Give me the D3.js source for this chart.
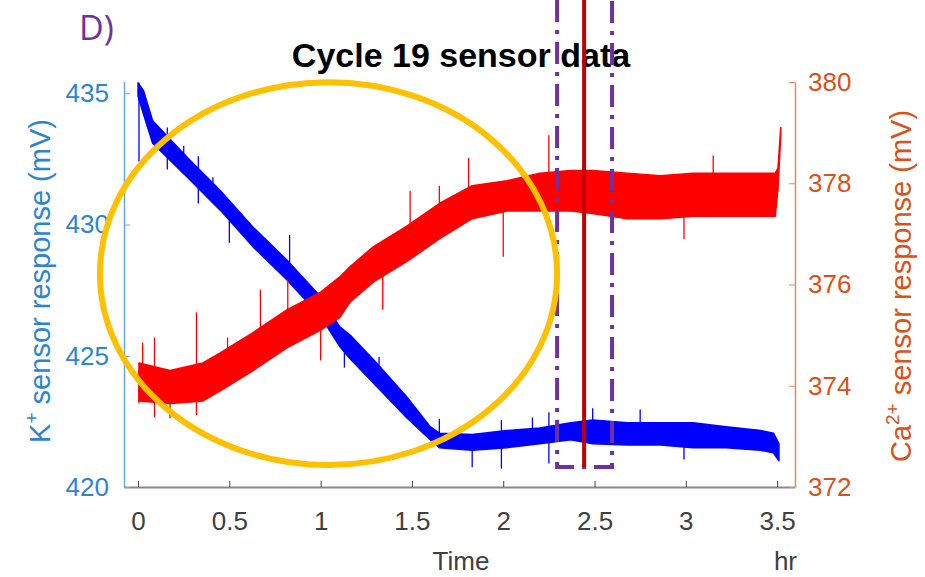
<!DOCTYPE html>
<meta charset="utf-8">
<script src="https://d3js.org/d3.v7.min.js"></script>
<style>
body { margin: 0; background: #fff; }
text { font-family: "Liberation Sans", Arial, sans-serif; }
</style>
<body>
<div id="chart"></div>
<script>

// K+ band (hr, lower mV, upper mV)
const kTime = [0.0, 0.03, 0.08, 0.27, 0.45, 0.63, 0.815, 1.0, 1.105, 1.16, 1.29, 1.47, 1.6, 1.65, 1.83, 2.02, 2.2, 2.37, 2.49, 2.68, 2.86, 3.04, 3.22, 3.41, 3.48, 3.51];
const kLow  = [434.9, 434.2, 433.1, 431.8, 430.55, 429.15, 427.9, 426.5, 425.35, 424.9, 423.95, 422.65, 421.8, 421.5, 421.4, 421.5, 421.65, 421.8, 421.65, 421.6, 421.6, 421.5, 421.5, 421.4, 421.3, 421.0];
const kHigh = [435.4, 435.1, 433.95, 432.55, 431.3, 429.9, 428.65, 427.25, 426.1, 425.8, 424.85, 423.45, 422.3, 422.05, 422.0, 422.15, 422.25, 422.45, 422.55, 422.45, 422.45, 422.45, 422.3, 422.15, 422.05, 421.65];

// Ca2+ band
const caTime = [0.005, 0.175, 0.355, 0.45, 0.63, 0.815, 1.0, 1.105, 1.16, 1.29, 1.47, 1.65, 1.83, 2.02, 2.2, 2.37, 2.49, 2.68, 2.86, 3.04, 3.22, 3.41, 3.49, 3.505, 3.52];
const caLow  = [373.7, 373.65, 373.7, 373.9, 374.3, 374.75, 375.1, 375.35, 375.65, 376.05, 376.45, 376.9, 377.3, 377.45, 377.45, 377.45, 377.4, 377.3, 377.3, 377.35, 377.35, 377.35, 377.35, 377.9, 378.95];
const caHigh = [374.45, 374.3, 374.45, 374.65, 375.05, 375.5, 375.85, 376.15, 376.35, 376.75, 377.15, 377.6, 377.95, 378.05, 378.2, 378.25, 378.25, 378.2, 378.15, 378.2, 378.2, 378.2, 378.2, 378.3, 379.1];

// spikes (hr, from mV, to mV)
const kSpikeT  = [0.005, 0.16, 0.25, 0.33, 0.41, 0.5, 0.83, 1.13, 1.32, 1.65, 1.83, 1.99, 2.16, 2.25, 2.49, 2.75, 2.99];
const kSpikeLo = [432.4, 432.1, 432.3, 430.8, 431.0, 429.3, 427.8, 424.55, 423.8, 421.6, 420.75, 420.7, 421.7, 420.9, 421.8, 421.8, 421.05];
const kSpikeHi = [435.4, 433.7, 433.0, 432.6, 431.8, 430.9, 429.6, 425.6, 424.95, 422.6, 421.9, 422.55, 422.65, 422.85, 423.0, 422.95, 422.2];

const caSpikeT  = [0.005, 0.025, 0.09, 0.175, 0.32, 0.49, 0.67, 0.82, 1.0, 1.34, 1.49, 1.65, 1.81, 2.0, 2.25, 2.99, 3.15];
const caSpikeLo = [373.65, 374.0, 373.38, 373.36, 373.42, 374.0, 374.5, 375.0, 374.5, 375.5, 376.5, 377.0, 377.5, 376.55, 377.8, 376.9, 377.8];
const caSpikeHi = [374.3, 374.85, 374.95, 374.1, 375.45, 374.95, 375.9, 376.1, 375.5, 376.5, 377.85, 377.95, 378.5, 377.8, 378.95, 377.8, 378.55];

const xTicks = [0, 0.5, 1, 1.5, 2, 2.5, 3, 3.5];
const kTicks = [420, 425, 430, 435];
const caTicks = [372, 374, 376, 378, 380];

// window markers (hr) and highlight ellipse (data units)
const windowStart = 2.295, windowEnd = 2.596, windowMid = 2.443, windowBottom = 420.76;
const ell = {t: 1.043, k: 428.13, rt: 1.252, rk: 7.29};

const W = 925, H = 577;
const plotL = 124, plotR = 795, plotT = 81.5, plotB = 487;

const svg = d3.select("#chart").append("svg")
    .attr("width", W).attr("height", H);

const x = d3.scaleLinear().domain([-0.077, 3.598]).range([plotL, plotR]);
const yK = d3.scaleLinear().domain([420, 435.45]).range([plotB, plotT]);
const yCa = d3.scaleLinear().domain([372, 380]).range([plotB, 82]);

const blue = "#0000ff", red = "#ff0000";
const kCol = "#2d86cc", caCol = "#d95319";

// bands
const kArea = d3.area()
    .x((d, i) => x(kTime[i]))
    .y0((d, i) => yK(kLow[i]))
    .y1((d, i) => yK(kHigh[i]));
svg.append("path").datum(kTime)
    .attr("d", kArea)
    .attr("fill", blue).attr("stroke", blue).attr("stroke-width", 1.5)
    .attr("stroke-linejoin", "round");

svg.append("g").selectAll("line")
  .data(kSpikeT)
  .join("line")
    .attr("x1", d => x(d)).attr("x2", d => x(d))
    .attr("y1", (d, i) => yK(kSpikeLo[i]))
    .attr("y2", (d, i) => yK(kSpikeHi[i]))
    .attr("stroke", blue).attr("stroke-width", 1.3);

const caArea = d3.area()
    .x((d, i) => x(caTime[i]))
    .y0((d, i) => yCa(caLow[i]))
    .y1((d, i) => yCa(caHigh[i]));
svg.append("path").datum(caTime)
    .attr("d", caArea)
    .attr("fill", red).attr("stroke", red).attr("stroke-width", 1.5)
    .attr("stroke-linejoin", "round");

svg.append("g").selectAll("line")
  .data(caSpikeT)
  .join("line")
    .attr("x1", d => x(d)).attr("x2", d => x(d))
    .attr("y1", (d, i) => yCa(caSpikeLo[i]))
    .attr("y2", (d, i) => yCa(caSpikeHi[i]))
    .attr("stroke", red).attr("stroke-width", 1.3);

// axes
const xAxis = svg.append("g")
    .attr("transform", `translate(0,${plotB})`)
    .call(d3.axisBottom(x).tickValues(xTicks).tickFormat(d3.format("")).tickSize(-6).tickSizeOuter(0).tickPadding(25));
xAxis.select(".domain").attr("stroke", "#8a8a8a").attr("stroke-width", 2);
xAxis.selectAll(".tick line").attr("stroke", "#444");
xAxis.selectAll("text").attr("fill", "#404040").style("font-size", "26px");

const kAxis = svg.append("g")
    .attr("transform", `translate(${plotL},0)`)
    .call(d3.axisLeft(yK).tickValues(kTicks).tickSize(-6).tickSizeOuter(0).tickPadding(15));
kAxis.select(".domain").attr("stroke", "#6aa8dc").attr("stroke-width", 1.5);
kAxis.selectAll(".tick line").attr("stroke", "#6aa8dc");
kAxis.selectAll("text").attr("fill", kCol).style("font-size", "26px");

const caAxis = svg.append("g")
    .attr("transform", `translate(${plotR},0)`)
    .call(d3.axisRight(yCa).tickValues(caTicks).tickSize(-6).tickSizeOuter(0).tickPadding(13));
caAxis.select(".domain").attr("stroke", "#e38a62").attr("stroke-width", 1.5);
caAxis.selectAll(".tick line").attr("stroke", "#e38a62");
caAxis.selectAll("text").attr("fill", caCol).style("font-size", "26px");

// axis labels
const kLabel = svg.append("text")
    .attr("transform", "translate(50,281) rotate(-90)")
    .attr("text-anchor", "middle")
    .attr("fill", kCol).style("font-size", "29px");
kLabel.append("tspan").text("K");
kLabel.append("tspan").attr("dy", -12).style("font-size", "19px").text("+");
kLabel.append("tspan").attr("dy", 12).text(" sensor response (mV)");

const caLabel = svg.append("text")
    .attr("transform", "translate(911,286) rotate(-90)")
    .attr("text-anchor", "middle")
    .attr("fill", caCol).style("font-size", "29px");
caLabel.append("tspan").text("Ca");
caLabel.append("tspan").attr("dy", -12).style("font-size", "19px").text("2+");
caLabel.append("tspan").attr("dy", 12).text(" sensor response (mV)");

svg.append("text")
    .attr("x", 461).attr("y", 570)
    .attr("text-anchor", "middle")
    .attr("fill", "#404040").style("font-size", "26px")
    .text("Time");
svg.append("text")
    .attr("x", 797).attr("y", 570)
    .attr("text-anchor", "end")
    .attr("fill", "#404040").style("font-size", "26px")
    .text("hr");

// title and panel letter
svg.append("text")
    .attr("x", 461).attr("y", 67)
    .attr("text-anchor", "middle")
    .attr("font-weight", "bold")
    .style("font-size", "34px")
    .text("Cycle 19 sensor data");

svg.append("text")
    .attr("x", 79).attr("y", 40)
    .attr("fill", "#7030a0")
    .style("font-family", "'Open Sans', sans-serif")
    .style("font-size", "34px")
    .text("D)");

// window box (open top) and marker
const purple = "#7030a0";
const yb = yK(windowBottom);
svg.append("path")
    .attr("d", `M${x(windowStart)},0 V${yb} H${x(windowEnd)} V0`)
    .attr("fill", "none")
    .attr("stroke", purple).attr("stroke-width", 4)
    .attr("stroke-dasharray", "22,8,4,8");

svg.append("line")
    .attr("x1", x(windowMid)).attr("x2", x(windowMid))
    .attr("y1", 0).attr("y2", yb)
    .attr("stroke", "#c00000").attr("stroke-width", 4);

// highlight ellipse
svg.append("ellipse")
    .attr("cx", x(ell.t)).attr("cy", yK(ell.k))
    .attr("rx", x(ell.rt) - x(0)).attr("ry", yK(420) - yK(420 + ell.rk))
    .attr("fill", "none")
    .attr("stroke", "#ffc000").attr("stroke-width", 6);

</script>
</body>
